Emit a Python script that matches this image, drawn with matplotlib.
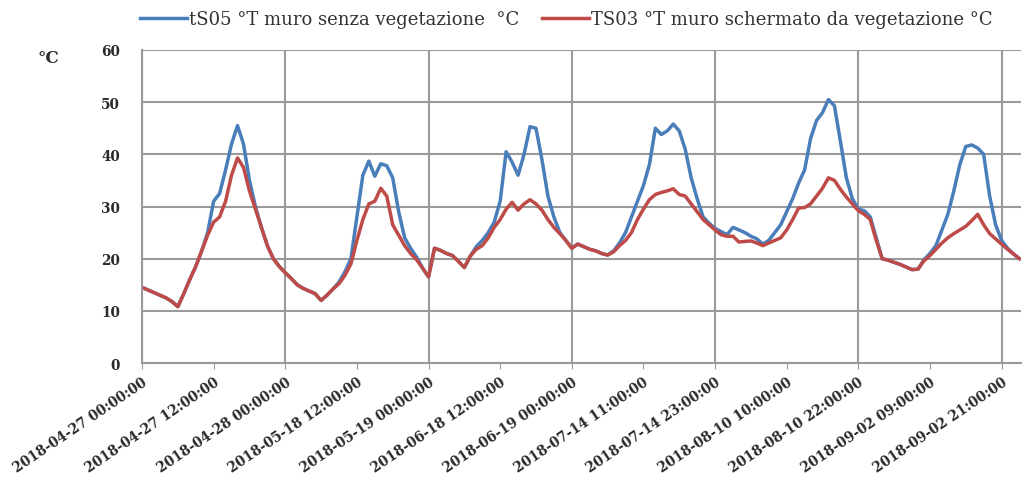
import numpy as np
import matplotlib
matplotlib.use('Agg')
import matplotlib.pyplot as plt

# hourly readings, days glued one after the other
ts05 = [14.5, 14.0, 13.5, 13.0, 12.5, 11.8, 10.8, 13.3, 16.0, 18.5, 21.5, 25.0,
        31.0, 32.5, 37.0, 42.0, 45.5, 42.0, 35.0, 30.0, 26.0, 22.5, 20.0, 18.5,
        17.3, 16.2, 15.0, 14.3, 13.8, 13.3, 12.0, 13.0, 14.2, 15.5, 17.5, 20.0,
        28.0, 36.0, 38.7, 35.8, 38.2, 37.8, 35.5, 29.0, 24.0, 22.0, 20.3, 18.2,
        16.5, 22.0, 21.6, 21.0, 20.6, 19.5, 18.3, 20.5, 22.3, 23.5, 25.0, 27.0,
        31.0, 40.5, 38.5, 36.0, 40.0, 45.3, 45.0, 39.0, 32.0, 28.0, 25.0, 23.5,
        22.0, 22.8, 22.3, 21.8, 21.5, 21.0, 20.7, 21.5, 23.0, 25.0, 28.0, 31.0,
        34.0, 38.0, 45.0, 43.8, 44.5, 45.8, 44.5, 41.0, 35.5, 31.5, 28.0, 26.8,
        25.8, 25.2, 24.6, 26.0, 25.5, 25.0, 24.3, 23.8, 22.8, 23.5, 25.0, 26.5,
        29.0, 31.5, 34.5, 37.0, 43.0, 46.5, 48.0, 50.5, 49.3, 42.5, 35.5, 31.5,
        29.5, 29.2, 28.0, 24.0, 20.0, 19.7, 19.3, 18.9, 18.4, 17.9, 18.0, 19.8,
        21.0, 22.5, 25.5, 28.5, 33.0, 38.0, 41.5, 41.8, 41.2, 40.0, 32.0, 26.5,
        23.5, 22.0, 20.9, 20.0]

ts03 = [14.5, 14.0, 13.5, 13.0, 12.5, 11.8, 10.8, 13.3, 16.0, 18.5, 21.5, 24.5,
        27.0, 28.0, 31.0, 36.0, 39.3, 37.5, 33.0, 29.5, 26.0, 22.5, 20.0, 18.5,
        17.3, 16.2, 15.0, 14.3, 13.8, 13.3, 12.0, 13.0, 14.2, 15.2, 16.8, 19.0,
        23.5, 27.5, 30.5, 31.0, 33.5, 32.0, 26.5, 24.5, 22.5, 21.0, 19.8, 18.2,
        16.5, 22.0, 21.6, 21.0, 20.6, 19.5, 18.3, 20.5, 21.8, 22.5, 24.0, 26.0,
        27.5, 29.5, 30.8, 29.3, 30.5, 31.3, 30.5, 29.3, 27.5, 26.0, 24.8, 23.5,
        22.0, 22.8, 22.3, 21.8, 21.5, 21.0, 20.7, 21.3, 22.5, 23.5, 25.0, 27.5,
        29.5, 31.3, 32.3, 32.7, 33.0, 33.4, 32.3, 32.0, 30.5, 29.0, 27.5, 26.5,
        25.5, 24.6, 24.3, 24.3, 23.2, 23.3, 23.4, 23.0, 22.5, 23.0, 23.5, 24.0,
        25.5, 27.5, 29.7, 29.8, 30.5, 32.0, 33.5, 35.5, 35.0, 33.3, 31.8, 30.5,
        29.2, 28.5, 27.5, 23.5, 20.0, 19.7, 19.3, 18.9, 18.4, 17.9, 18.0, 19.6,
        20.6, 21.8, 23.0, 24.0, 24.8, 25.5, 26.2, 27.3, 28.5, 26.5, 24.8, 23.8,
        22.8, 21.8, 20.9, 20.0]

labels = ['2018-04-27 00:00:00', '2018-04-27 12:00:00', '2018-04-28 00:00:00',
          '2018-05-18 12:00:00', '2018-05-19 00:00:00', '2018-06-18 12:00:00',
          '2018-06-19 00:00:00', '2018-07-14 11:00:00', '2018-07-14 23:00:00',
          '2018-08-10 10:00:00', '2018-08-10 22:00:00', '2018-09-02 09:00:00',
          '2018-09-02 21:00:00']

name_blue = 'tS05 °T muro senza vegetazione  °C'
name_red = 'TS03 °T muro schermato da vegetazione °C'

blue = '#4a7ebb'
red = '#be4b48'
grid_col = '#9a9a9a'
txt_col = '#2a2a2a'
serif = ['DejaVu Serif']

x = np.arange(len(ts05))
label_pos = np.arange(len(labels)) * 12

fig = plt.figure(figsize=(10.26, 4.81), dpi=100)
ax = fig.add_axes([0.1384, 0.2432, 0.857, 0.6508])

l1, = ax.plot(x, ts05, color=blue, lw=2.5, solid_joinstyle='round')
l2, = ax.plot(x, ts03, color=red, lw=2.5, solid_joinstyle='round')

ax.set_xlim(0, 147.3)
ax.set_ylim(0, 60)
ax.set_yticks(np.arange(0, 61, 10))
ax.set_xticks(label_pos)
ax.set_xticklabels(labels, rotation=34, ha='right', rotation_mode='anchor',
                   fontfamily=serif, fontsize=9.8, fontweight='bold', color=txt_col)
for t in ax.get_yticklabels():
    t.set_fontfamily(serif)
    t.set_fontweight('bold')
    t.set_fontsize(9.8)
    t.set_color(txt_col)

# horizontal grid + vertical lines every second label
ax.yaxis.grid(True, color=grid_col, lw=1.5)
for p in label_pos[::2]:
    ax.axvline(p, color=grid_col, lw=1.5, zorder=0.5)
ax.set_axisbelow(True)

for s in ['top', 'right']:
    ax.spines[s].set_visible(False)
ax.spines['left'].set_color(grid_col)
ax.spines['bottom'].set_color(grid_col)
ax.spines['left'].set_linewidth(1.5)
ax.spines['bottom'].set_linewidth(1.5)
ax.tick_params(axis='y', length=0, pad=16)
ax.tick_params(axis='x', length=4, color=grid_col, pad=4)

fig.text(0.037, 0.868, '°C', fontfamily=serif, fontweight='bold', fontsize=12, color=txt_col)

leg = fig.legend([l1, l2], [name_blue, name_red], loc='upper left', ncol=2,
                 bbox_to_anchor=(140 / 1026, 1 - 11 / 481), frameon=False,
                 borderpad=0, borderaxespad=0, handlelength=2.6,
                 handletextpad=0.1, columnspacing=1.3,
                 prop={'family': serif, 'size': 13})
for t in leg.get_texts():
    t.set_color('#333333')

plt.savefig('out.png', dpi=100)
